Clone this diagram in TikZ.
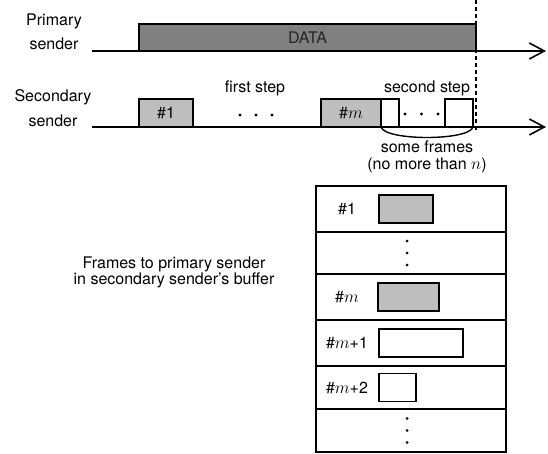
\documentclass[tikz,border=0pt]{standalone}
\usepackage{fontspec}
\setmainfont{TeX Gyre Heros}
\usetikzlibrary{positioning,arrows.meta}
\definecolor{DataGray}{RGB}{128,128,128}
\definecolor{FrameGray}{RGB}{190,190,190}
\tikzset{
  timeline/.style={-{Straight Barb[length=15pt,width=16pt]},line width=1.6pt},
  marker/.style={line width=1.8pt,dash pattern=on 4pt off 3pt},
  databox/.style={draw,line width=1.4pt,fill=DataGray,anchor=south west,
    inner sep=0pt,outer sep=0pt,text=black!85,font=\fontsize{16}{18}\selectfont},
  framebox/.style={draw,line width=1.4pt,fill=FrameGray,anchor=south west,
    inner sep=0pt,outer sep=0pt,minimum height=28,font=\fontsize{16}{18}\selectfont},
  emptybox/.style={framebox,fill=white},
  rowbox/.style={draw,line width=1.2pt,minimum width=190,anchor=north west,
    inner sep=0pt,outer sep=0pt},
  bufbox/.style={draw,line width=1.4pt,fill=FrameGray,anchor=west,
    inner sep=0pt,outer sep=0pt,minimum height=28},
  lbl/.style={font=\fontsize{16}{24.5}\selectfont,align=center}
}

\begin{document}
\begin{tikzpicture}[x=1pt,y=-1pt]
  \useasboundingbox (0,0) rectangle (548,454);
  \coordinate (p0) at (92,51);
  \coordinate (p1) at (546,51);
  \coordinate (s0) at (92,127);
  \coordinate (s1) at (546,127);
  \node[lbl] (plbl) at (54,32) {Primary\\sender};
  \node[lbl] (slbl) at (53,108) {Secondary\\sender};
  \node[databox,minimum width=337,minimum height=27] (data) at (139,51) {DATA};
  \draw[timeline] (p0) -- (p1);
  \node[framebox,minimum width=54] (f1) at (139,127) {\#1};
  \node[framebox,minimum width=60] (fm) at (321,127) {\#$m$};
  \node[emptybox,minimum width=18] (e1) at (381,127) {};
  \node[emptybox,minimum width=28] (e2) at (445,127) {};
  \draw[timeline] (s0) -- (s1);
  \foreach \x in {240,256,272} \fill (\x,115) circle (1.6pt);
  \foreach \x in {405,421.5,438} \fill (\x,114) circle (1.6pt);
  \node[lbl] (first) at (255,88) {first step};
  \node[lbl] (second) at (427,88) {second step};
  \coordinate (mtop) at (476,0);
  \coordinate (mbot) at (476,130);
  \draw[marker] (mtop) -- (mbot);
  \draw[line width=1.4pt] (e1.south west) .. controls +(4,14) and +(-4,14) .. (e2.south east);
  \node[font=\fontsize{16}{17}\selectfont,align=center] (some) at (427,157) {some frames\\(no more than $n$)};
  \foreach \i/\t/\h in {1/186/46,2/232/42,3/274/46,4/320/46,5/366/43,6/409/43}
    \node[rowbox,minimum height=\h] (row\i) at (316,\t) {};
  \node[lbl] (lab1) at ([xshift=31pt]row1.west) {\#1};
  \node[lbl] (lab3) at ([xshift=31pt]row3.west) {\#$m$};
  \node[lbl] (lab4) at ([xshift=31pt]row4.west) {\#$m$+1};
  \node[lbl] (lab5) at ([xshift=31pt]row5.west) {\#$m$+2};
  \node[bufbox,minimum width=54] (buf1) at ([xshift=63pt]row1.west) {};
  \node[bufbox,minimum width=61] (buf3) at ([xshift=62pt]row3.west) {};
  \node[bufbox,fill=white,minimum width=84] (buf4) at ([xshift=63pt]row4.west) {};
  \node[bufbox,fill=white,minimum width=37] (buf5) at ([xshift=63pt]row5.west) {};
  \foreach \r in {row2,row6}
    \foreach \d in {-12,0,12} \fill ([shift={(-4pt,\d pt)}]\r.center) circle (1.5pt);
  \node[font=\fontsize{16}{16}\selectfont,align=center] (note) at (174,272)
    {Frames to primary sender\\in secondary sender's buffer};
\end{tikzpicture}
\end{document}
